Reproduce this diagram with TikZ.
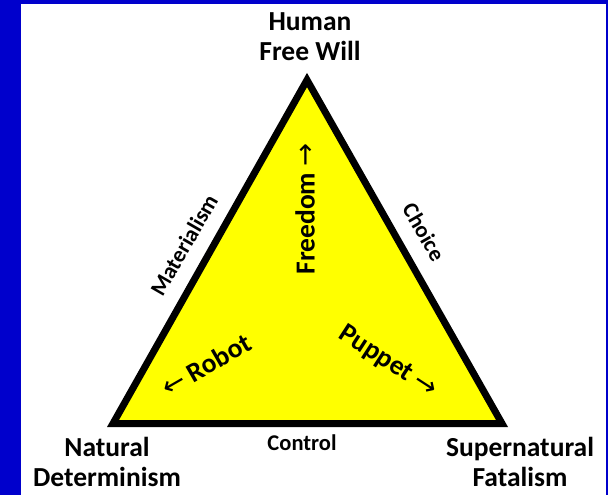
\documentclass[tikz,border=0pt]{standalone}
\usepackage{fontspec}
\setmainfont{Carlito}
\newfontfamily\arrowfont{DejaVu Sans}
\definecolor{slideblue}{RGB}{0,0,204}
\definecolor{triyellow}{RGB}{255,255,0}
\begin{document}
\begin{tikzpicture}[x=1pt,y=-1pt,%
every node/.style={inner sep=0pt, align=center,
font=\bfseries\fontsize{27.5}{30}\selectfont},
sidelabel/.style={font=\bfseries\fontsize{22.5}{26}\selectfont}]
\fill[slideblue] (0,0) rectangle (608,495);
\fill[white] (21,4) rectangle (606,495);
\useasboundingbox (0,0) rectangle (608,495);
\coordinate (apex) at (307,80);
\coordinate (natL) at (113,423.5);
\coordinate (supR) at (502,423.5);
\draw[line width=7pt, line join=miter, fill=triyellow] (apex) -- (natL) -- (supR) -- cycle;
\node (human) at (310,37) {Human\\Free Will};
\node (natural) at (107,462) {Natural\\Determinism};
\node (supernat) at (520,462) {Supernatural\\Fatalism};
\node (control) at (302,443) [sidelabel] {Control};
\node (mater) at (184,245) [sidelabel, rotate=60] {Materialism};
\node (choice) at (424,232) [sidelabel, rotate=-60] {Choice};
\node (freedom) at (305,209) [rotate=90] {Freedom {\arrowfont\mdseries →}};
\node (robot) at (206,365) [rotate=30] {{\arrowfont\mdseries ←} Robot};
\node (puppet) at (388,362) [rotate=-33] {Puppet {\arrowfont\mdseries →}};
\end{tikzpicture}
\end{document}
